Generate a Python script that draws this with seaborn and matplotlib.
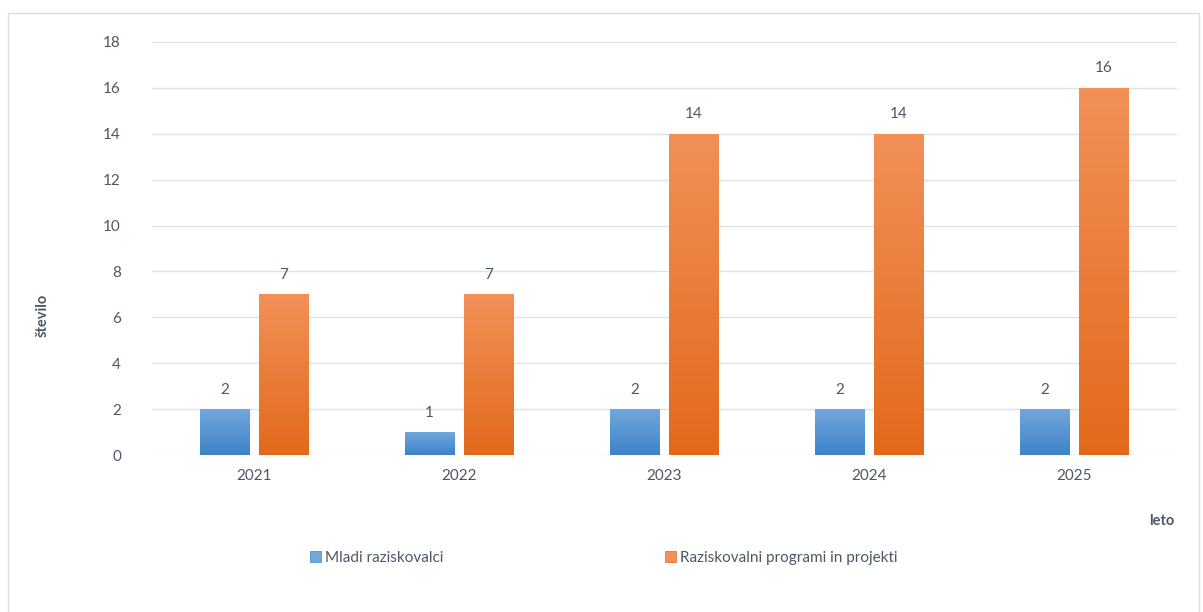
import numpy as np
import pandas as pd
import seaborn as sns
import matplotlib.pyplot as plt
from matplotlib.colors import LinearSegmentedColormap
from matplotlib.patches import Rectangle, Patch

years = ["2021", "2022", "2023", "2024", "2025"]
mladi = [2, 1, 2, 2, 2]
programi = [7, 7, 14, 14, 16]
series_names = ["Mladi raziskovalci", "Raziskovalni programi in projekti"]

df = pd.DataFrame({
    "leto": years * 2,
    "stevilo": mladi + programi,
    "serija": [series_names[0]] * len(years) + [series_names[1]] * len(years),
})

text_col = "#4d5766"
grid_col = "#dfe3e8"
grads = {
    series_names[0]: ("#3f82c8", "#70a7dd"),
    series_names[1]: ("#e2691b", "#f29058"),
}

sns.set_style("white")
plt.rcParams["font.family"] = ["Lato", "DejaVu Sans"]

fig = plt.figure(figsize=(12.03, 6.12), dpi=100)
ax = fig.add_axes([0.126, 0.2565, 0.852, 0.675])

sns.barplot(
    data=df, x="leto", y="stevilo", hue="serija", order=years,
    hue_order=series_names, width=0.576, gap=0.167, ax=ax,
    palette=[grads[s][0] for s in series_names], legend=False,
)

# gradient fill on each bar
for cont, name in zip(ax.containers, series_names):
    cmap = LinearSegmentedColormap.from_list(name, list(grads[name]))
    for bar in cont:
        x, w, h = bar.get_x(), bar.get_width(), bar.get_height()
        grad = np.linspace(0, 1, 100).reshape(-1, 1)
        im = ax.imshow(grad, cmap=cmap, origin="lower", aspect="auto",
                       extent=[x, x + w, 0, h], zorder=2)
        im.set_clip_path(bar)
        bar.set_edgecolor(grads[name][1])
        bar.set_linewidth(0.6)
        bar.set_zorder(2)
    ax.bar_label(cont, padding=9, color=text_col, fontsize=11)

ax.set_xlim(-0.5, 4.5)
ax.set_ylim(0, 18)
ax.set_yticks(range(0, 19, 2))
ax.yaxis.grid(True, color=grid_col, linewidth=1)
ax.set_axisbelow(True)
sns.despine(ax=ax, left=True, bottom=True)
ax.tick_params(axis="both", length=0, labelsize=11, labelcolor=text_col)
ax.tick_params(axis="y", pad=22)
ax.tick_params(axis="x", pad=10)
ax.set_xlabel("")
ax.set_ylabel("")

fig.text(0.966, 0.148, "leto", fontsize=10.5, fontweight="bold",
         color=text_col, ha="center", va="center")
fig.text(0.035, 0.485, "število", fontsize=10.5, fontweight="bold",
         color=text_col, ha="center", va="center", rotation=90)

handles = [Patch(facecolor=grads[s][1], edgecolor=grads[s][0], linewidth=0.5)
           for s in series_names]
fig.legend(handles, series_names, loc="center", bbox_to_anchor=(0.502, 0.089),
           ncol=2, frameon=False, fontsize=11, labelcolor=text_col,
           handlelength=0.7, handleheight=0.7, handletextpad=0.3,
           columnspacing=14.5)

fig.patches.append(Rectangle((0.0067, -0.01), 0.99, 0.989, transform=fig.transFigure,
                             fill=False, edgecolor="#d9dde3", linewidth=1))

fig.savefig("out.png", dpi=100)
